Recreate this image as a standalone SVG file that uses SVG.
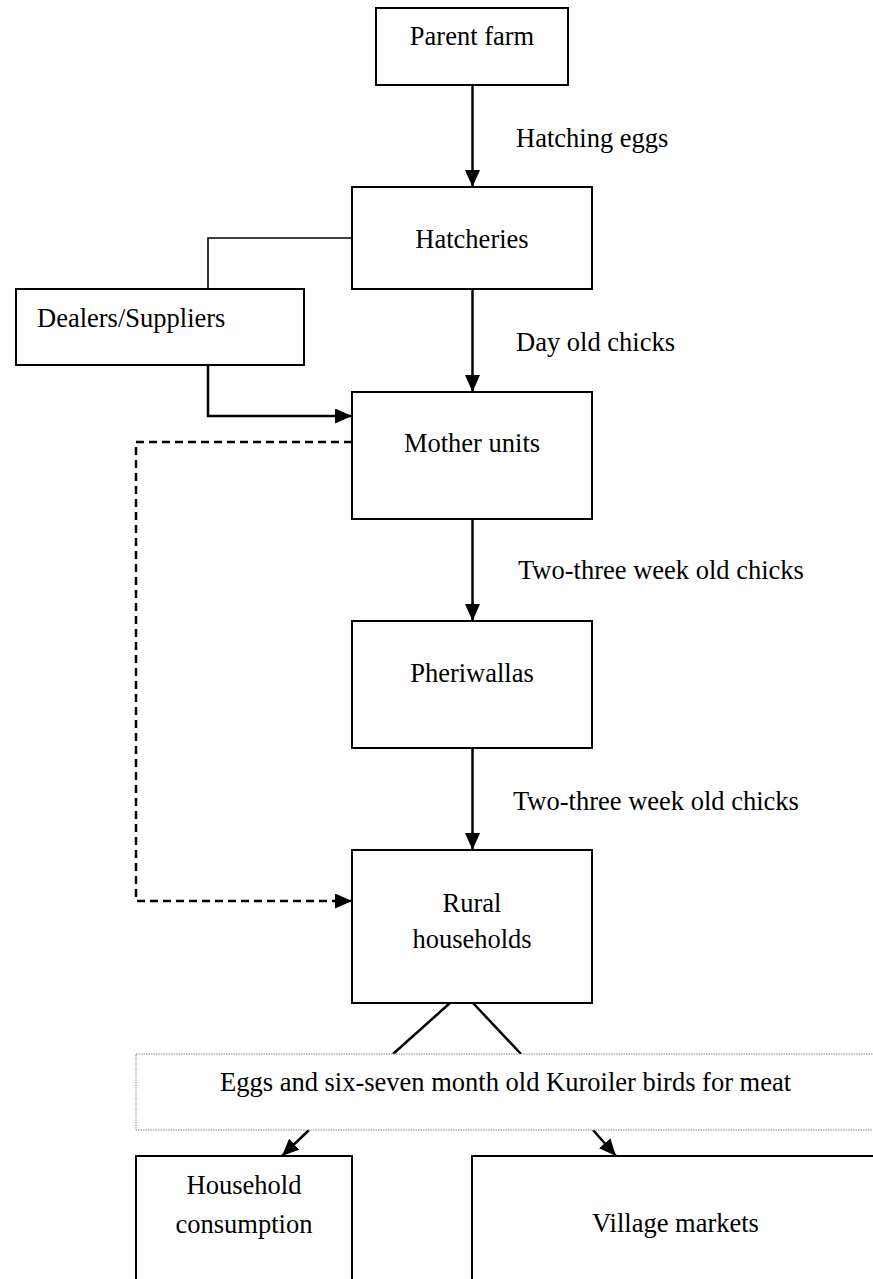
<svg xmlns="http://www.w3.org/2000/svg" width="873" height="1279" viewBox="0 0 873 1279">
<style>
.box{fill:#fff;stroke:#000;stroke-width:2}
.t{font-family:"Liberation Serif","Times New Roman",serif;font-size:26.5px;fill:#000}
.m{text-anchor:middle}
.arr{fill:none;stroke:#000;stroke-width:2.5}
.thin{fill:none;stroke:#000;stroke-width:1.6}
.dash{fill:none;stroke:#000;stroke-width:2.5;stroke-dasharray:8 5}
</style>
<defs>
<marker id="ah" markerUnits="userSpaceOnUse" markerWidth="17" markerHeight="15" refX="17" refY="7.5" orient="auto">
<path d="M0,0 L17,7.5 L0,15 Z" fill="#000"/>
</marker>
</defs>
<rect width="873" height="1279" fill="#fff"/>
<g id="connectors">
<line class="arr" x1="472.5" y1="85" x2="472.5" y2="187" marker-end="url(#ah)"/>
<line class="arr" x1="472.5" y1="289" x2="472.5" y2="392" marker-end="url(#ah)"/>
<line class="arr" x1="472.5" y1="519" x2="472.5" y2="621" marker-end="url(#ah)"/>
<line class="arr" x1="472.5" y1="748" x2="472.5" y2="850" marker-end="url(#ah)"/>
<polyline class="thin" points="352,238 208,238 208,289"/>
<polyline class="arr" points="208,365 208,416 352,416" marker-end="url(#ah)"/>
<polyline class="dash" points="352,442 136,442 136,901 352,901" marker-end="url(#ah)"/>
<line class="arr" x1="450" y1="1003" x2="393" y2="1054"/>
<line class="arr" x1="473" y1="1003" x2="521" y2="1054"/>
<line class="arr" x1="309" y1="1130" x2="282" y2="1156" marker-end="url(#ah)"/>
<line class="arr" x1="593" y1="1130" x2="616" y2="1156" marker-end="url(#ah)"/>
<text class="t" x="516" y="147">Hatching eggs</text>
<text class="t" x="516" y="351">Day old chicks</text>
<text class="t" x="518" y="579">Two-three week old chicks</text>
<text class="t" x="513" y="810">Two-three week old chicks</text>
</g>
<g id="parent-farm">
<rect class="box" x="376" y="8" width="192" height="77"/>
<text class="t m" x="472" y="45">Parent farm</text>
</g>
<g id="hatcheries">
<rect class="box" x="352" y="187" width="240" height="102"/>
<text class="t m" x="472" y="248">Hatcheries</text>
</g>
<g id="dealers">
<rect class="box" x="16" y="289" width="288" height="76"/>
<text class="t" x="37" y="327">Dealers/Suppliers</text>
</g>
<g id="mother-units">
<rect class="box" x="352" y="392" width="240" height="127"/>
<text class="t m" x="472" y="452">Mother units</text>
</g>
<g id="pheriwallas">
<rect class="box" x="352" y="621" width="240" height="127"/>
<text class="t m" x="472" y="682">Pheriwallas</text>
</g>
<g id="rural-households">
<rect class="box" x="352" y="850" width="240" height="153"/>
<text class="t m" x="472" y="912">Rural</text>
<text class="t m" x="472" y="948">households</text>
</g>
<g id="outputs">
<rect x="136" y="1054" width="745" height="76" fill="#fff" stroke="#888" stroke-width="1" stroke-dasharray="1.5 1"/>
<text class="t" x="220" y="1091">Eggs and six-seven month old Kuroiler birds for meat</text>
</g>
<g id="household-consumption">
<rect class="box" x="136" y="1156" width="216" height="140"/>
<text class="t m" x="244" y="1194">Household</text>
<text class="t m" x="244" y="1233">consumption</text>
</g>
<g id="village-markets">
<rect class="box" x="472" y="1156" width="420" height="140"/>
<text class="t" x="592" y="1232">Village markets</text>
</g>
</svg>
